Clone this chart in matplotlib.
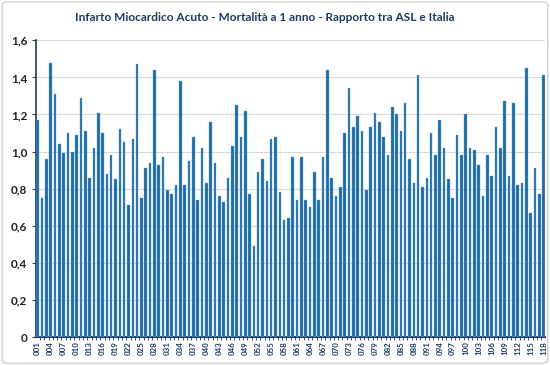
import matplotlib
matplotlib.use("Agg")
import matplotlib.pyplot as plt
from matplotlib.patches import FancyBboxPatch
from matplotlib.ticker import FixedLocator, FuncFormatter

codes = [f"{i:03d}" for i in range(1, 119)]
values = [1.17, 0.75, 0.96, 1.48, 1.31, 1.04, 0.99, 1.10, 1.00, 1.09,
          1.29, 1.11, 0.86, 1.02, 1.21, 1.10, 0.88, 0.98, 0.85, 1.12,
          1.05, 0.71, 1.07, 1.47, 0.75, 0.91, 0.94, 1.44, 0.93, 0.97,
          0.79, 0.77, 0.82, 1.38, 0.82, 0.95, 1.08, 0.74, 1.02, 0.83,
          1.16, 0.94, 0.76, 0.73, 0.86, 1.03, 1.25, 1.08, 1.22, 0.77,
          0.49, 0.89, 0.96, 0.84, 1.07, 1.08, 0.78, 0.63, 0.64, 0.97,
          0.74, 0.97, 0.74, 0.70, 0.89, 0.74, 0.97, 1.44, 0.86, 0.76,
          0.81, 1.10, 1.34, 1.13, 1.19, 1.11, 0.79, 1.13, 1.21, 1.16,
          1.08, 0.98, 1.24, 1.20, 1.11, 1.26, 0.96, 0.83, 1.41, 0.81,
          0.86, 1.10, 0.98, 1.17, 1.02, 0.85, 0.75, 1.09, 0.98, 1.20,
          1.02, 1.01, 0.93, 0.76, 0.98, 0.87, 1.13, 1.02, 1.27, 0.87,
          1.26, 0.82, 0.83, 1.45, 0.67, 0.91, 0.77, 1.41]
title = "Infarto Miocardico Acuto - Mortalità a 1 anno - Rapporto tra ASL e Italia"
yticks = [0, 0.2, 0.4, 0.6, 0.8, 1.0, 1.2, 1.4, 1.6]

plt.rcParams['font.family'] = ['Lato', 'DejaVu Sans']

fig = plt.figure(figsize=(5.5, 3.65), dpi=100)
fig.patches.append(FancyBboxPatch((0.004, 0.005), 0.992, 0.99,
                                  boxstyle="round,pad=0,rounding_size=0.01",
                                  transform=fig.transFigure, fill=False,
                                  edgecolor="#d0d0d0", linewidth=1.0))
ax = fig.add_axes([0.065, 0.0767, 0.926, 0.813])

x = list(range(len(values)))
ax.bar(x, values, width=0.6, color="#1f6aa5", edgecolor="#6aaad6",
       linewidth=0.3, zorder=3)

ax.set_xlim(-0.45, len(values) - 0.65)
ax.set_ylim(0, 1.6)
ax.set_yticks(yticks)
ax.yaxis.set_major_formatter(FuncFormatter(
    lambda v, p: "0" if v == 0 else f"{v:.1f}".replace(".", ",")))
ax.grid(axis="y", color="#d9d9d9", linewidth=0.8, zorder=0)

ax.set_xticks(x[::3])
ax.set_xticklabels(codes[::3], rotation=90, fontsize=5.7,
                   fontweight="bold", color="#1f3864")
ax.xaxis.set_minor_locator(FixedLocator([i + 0.5 for i in range(-1, len(values))]))
ax.tick_params(axis="x", which="major", length=0, pad=3)
ax.tick_params(axis="x", which="minor", length=2.5, width=0.6, color="#1f3864",
               direction="out")
ax.tick_params(axis="y", length=3, width=0.8, color="#404040", labelsize=8.5,
               pad=3)
for lab in ax.get_yticklabels():
    lab.set_fontweight("bold")
    lab.set_color("#222222")

for s in ["top", "right"]:
    ax.spines[s].set_visible(False)
ax.spines["left"].set_color("#1f3864")
ax.spines["left"].set_linewidth(1.2)
ax.spines["bottom"].set_color("#1f3864")
ax.spines["bottom"].set_linewidth(1.5)

fig.text(0.482, 0.952, title, ha="center", va="center", fontsize=8.6,
         fontweight="bold", color="#1f3864")

fig.savefig("out.png", dpi=100)
